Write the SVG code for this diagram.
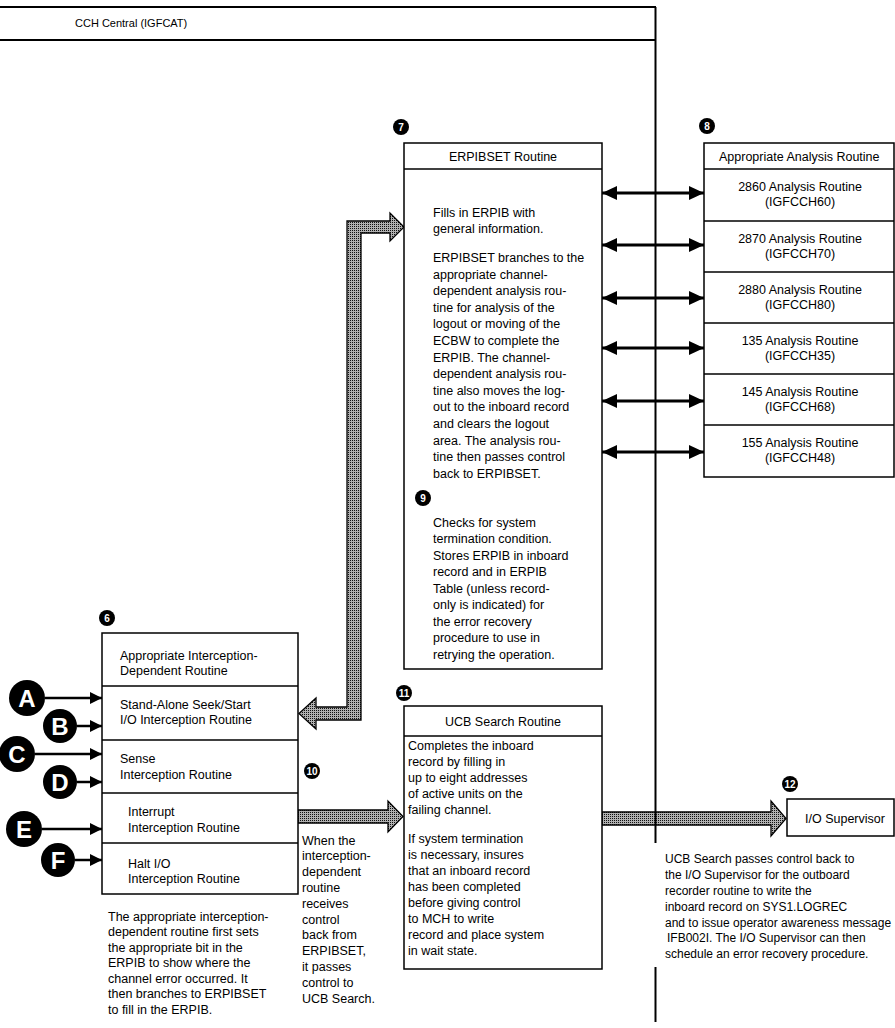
<svg xmlns="http://www.w3.org/2000/svg" width="895" height="1028" viewBox="0 0 895 1028">
<style>
.t{font-family:"Liberation Sans",Arial,sans-serif;font-size:12.5px;fill:#000}
.s{font-size:12px}
.h{font-family:"Liberation Sans",Arial,sans-serif;font-size:12.5px;fill:#000;text-anchor:middle}
.box{fill:#fff;stroke:#000;stroke-width:1.5}
.ln{stroke:#000;stroke-width:1.5;fill:none}
.bd{fill:#000}
.bn{font-family:"Liberation Sans",Arial,sans-serif;font-size:10px;font-weight:bold;fill:#fff;text-anchor:middle}
.lc{fill:#000}
.lt{font-family:"Liberation Sans",Arial,sans-serif;font-size:24px;font-weight:bold;fill:#fff;text-anchor:middle}
.ar{stroke:#000;stroke-width:3;fill:none}
.big{fill:url(#dots);stroke:#000;stroke-width:1.3;stroke-linejoin:miter}
</style>
<defs>
<pattern id="dots" width="2" height="2" patternUnits="userSpaceOnUse"><rect width="2" height="2" fill="#b0b0b0"/><rect width="1" height="1" fill="#111"/></pattern>
<marker id="ah" viewBox="0 0 15 14" refX="15" refY="7" markerWidth="15" markerHeight="14" markerUnits="userSpaceOnUse" orient="auto-start-reverse"><path d="M0,0 L15,7 L0,14 z" fill="#000"/></marker>
<marker id="as" viewBox="0 0 12 12" refX="12" refY="6" markerWidth="12" markerHeight="12" markerUnits="userSpaceOnUse" orient="auto"><path d="M0,0 L12,6 L0,12 z" fill="#000"/></marker>
</defs>
<rect width="895" height="1028" fill="#fff"/>

<g id="frame">
<line class="ln" x1="0" y1="7" x2="656" y2="7" style="stroke-width:2"/>
<line class="ln" x1="0" y1="40" x2="656" y2="40" style="stroke-width:2"/>
<text class="t" x="75" y="27" style="font-size:11px">CCH Central (IGFCAT)</text>
</g>

<g id="connectors">
<line class="ar" x1="602" y1="193" x2="704" y2="193" marker-start="url(#ah)" marker-end="url(#ah)"/>
<line class="ar" x1="602" y1="245" x2="704" y2="245" marker-start="url(#ah)" marker-end="url(#ah)"/>
<line class="ar" x1="602" y1="298" x2="704" y2="298" marker-start="url(#ah)" marker-end="url(#ah)"/>
<line class="ar" x1="602" y1="348" x2="704" y2="348" marker-start="url(#ah)" marker-end="url(#ah)"/>
<line class="ar" x1="602" y1="401" x2="704" y2="401" marker-start="url(#ah)" marker-end="url(#ah)"/>
<line class="ar" x1="602" y1="452" x2="704" y2="452" marker-start="url(#ah)" marker-end="url(#ah)"/>
<polygon class="big" points="299,713.5 316,698 316,707 347,707 347,221 390,221 390,213 404,227 390,241 390,233 361,233 361,720 316,720 316,729"/>
<polygon class="big" points="298,810 388,810 388,801 403,816.5 388,832 388,823 298,823"/>
<polygon class="big" points="602,812 771,812 771,801 786,818.5 771,836 771,825 602,825"/>
<line class="ar" x1="45" y1="698" x2="102" y2="698" style="stroke-width:2.5" marker-end="url(#as)"/>
<line class="ar" x1="77" y1="726" x2="102" y2="726" style="stroke-width:2.5" marker-end="url(#as)"/>
<line class="ar" x1="35" y1="754" x2="102" y2="754" style="stroke-width:2.5" marker-end="url(#as)"/>
<line class="ar" x1="77" y1="782" x2="102" y2="782" style="stroke-width:2.5" marker-end="url(#as)"/>
<line class="ar" x1="42" y1="829" x2="102" y2="829" style="stroke-width:2.5" marker-end="url(#as)"/>
<line class="ar" x1="75" y1="860" x2="102" y2="860" style="stroke-width:2.5" marker-end="url(#as)"/>
<line class="ln" x1="655.5" y1="7" x2="655.5" y2="843" style="stroke-width:2"/>
<line class="ln" x1="655.5" y1="967" x2="655.5" y2="1022" style="stroke-width:2"/>
</g>

<g id="erpibset">
<rect class="box" x="404" y="143" width="198" height="526"/>
<line class="ln" x1="404" y1="169" x2="602" y2="169"/>
<text class="h" x="503" y="161">ERPIBSET Routine</text>
<circle class="bd" cx="401" cy="127" r="8"/><text class="bn" x="401" y="130.5">7</text>
<text class="t" x="433" y="217">Fills in ERPIB with</text>
<text class="t" x="433" y="233">general information.</text>
<text class="t" x="433" y="262">ERPIBSET branches to the</text>
<text class="t" x="433" y="278.6">appropriate channel-</text>
<text class="t" x="433" y="295.2">dependent analysis rou-</text>
<text class="t" x="433" y="311.8">tine for analysis of the</text>
<text class="t" x="433" y="328.4">logout or moving of the</text>
<text class="t" x="433" y="345">ECBW to complete the</text>
<text class="t" x="433" y="361.6">ERPIB.  The channel-</text>
<text class="t" x="433" y="378.2">dependent analysis rou-</text>
<text class="t" x="433" y="394.8">tine also moves the log-</text>
<text class="t" x="433" y="411.4">out to the inboard record</text>
<text class="t" x="433" y="428">and clears the logout</text>
<text class="t" x="433" y="444.6">area.  The analysis rou-</text>
<text class="t" x="433" y="461.2">tine then passes control</text>
<text class="t" x="433" y="477.8">back to ERPIBSET.</text>
<circle class="bd" cx="423" cy="498" r="8"/><text class="bn" x="423" y="501.5">9</text>
<text class="t" x="433" y="526.5">Checks for system</text>
<text class="t" x="433" y="543">termination condition.</text>
<text class="t" x="433" y="559.5">Stores ERPIB in inboard</text>
<text class="t" x="433" y="576">record and in ERPIB</text>
<text class="t" x="433" y="592.5">Table (unless record-</text>
<text class="t" x="433" y="609">only is indicated) for</text>
<text class="t" x="433" y="625.5">the error recovery</text>
<text class="t" x="433" y="642">procedure to use in</text>
<text class="t" x="433" y="658.5">retrying the operation.</text>
</g>

<g id="analysis">
<rect class="box" x="704" y="143" width="190" height="334"/>
<line class="ln" x1="704" y1="169" x2="894" y2="169"/>
<line class="ln" x1="704" y1="221" x2="894" y2="221"/>
<line class="ln" x1="704" y1="272" x2="894" y2="272"/>
<line class="ln" x1="704" y1="323" x2="894" y2="323"/>
<line class="ln" x1="704" y1="374" x2="894" y2="374"/>
<line class="ln" x1="704" y1="425" x2="894" y2="425"/>
<circle class="bd" cx="707" cy="126" r="8"/><text class="bn" x="707" y="129.5">8</text>
<text class="t" x="719" y="161">Appropriate Analysis Routine</text>
<text class="h" x="800" y="191">2860 Analysis Routine</text>
<text class="h" x="800" y="206">(IGFCCH60)</text>
<text class="h" x="800" y="242.5">2870 Analysis Routine</text>
<text class="h" x="800" y="257.5">(IGFCCH70)</text>
<text class="h" x="800" y="293.5">2880 Analysis Routine</text>
<text class="h" x="800" y="308.5">(IGFCCH80)</text>
<text class="h" x="800" y="344.5">135 Analysis Routine</text>
<text class="h" x="800" y="359.5">(IGFCCH35)</text>
<text class="h" x="800" y="395.5">145 Analysis Routine</text>
<text class="h" x="800" y="410.5">(IGFCCH68)</text>
<text class="h" x="800" y="446.5">155 Analysis Routine</text>
<text class="h" x="800" y="461.5">(IGFCCH48)</text>
</g>

<g id="interception">
<rect class="box" x="102" y="633" width="196" height="261"/>
<line class="ln" x1="102" y1="686" x2="298" y2="686"/>
<line class="ln" x1="102" y1="740" x2="298" y2="740"/>
<line class="ln" x1="102" y1="793" x2="298" y2="793"/>
<line class="ln" x1="102" y1="843" x2="298" y2="843"/>
<circle class="bd" cx="107" cy="618" r="8"/><text class="bn" x="107" y="621.5">6</text>
<text class="t" x="120" y="659.5">Appropriate Interception-</text>
<text class="t" x="120" y="675">Dependent Routine</text>
<text class="t" x="120" y="708.5">Stand-Alone Seek/Start</text>
<text class="t" x="120" y="723.5">I/O Interception Routine</text>
<text class="t" x="120" y="762.5">Sense</text>
<text class="t" x="120" y="778.5">Interception Routine</text>
<text class="t" x="128" y="815.5">Interrupt</text>
<text class="t" x="128" y="831.5">Interception Routine</text>
<text class="t" x="128" y="867.5">Halt I/O</text>
<text class="t" x="128" y="882.5">Interception Routine</text>
<text class="t" x="108" y="920.5">The appropriate interception-</text>
<text class="t" x="108" y="936">dependent routine first sets</text>
<text class="t" x="108" y="951.5">the appropriate bit in the</text>
<text class="t" x="108" y="967">ERPIB to show where the</text>
<text class="t" x="108" y="982.5">channel error occurred.  It</text>
<text class="t" x="108" y="998">then branches to ERPIBSET</text>
<text class="t" x="108" y="1013.5">to fill in the ERPIB.</text>
</g>

<g id="entryA"><circle class="lc" cx="27" cy="698" r="18"/><text class="lt" x="27" y="706.5">A</text></g>
<g id="entryB"><circle class="lc" cx="60" cy="726" r="17"/><text class="lt" x="60" y="734.5">B</text></g>
<g id="entryC"><circle class="lc" cx="17" cy="754" r="18"/><text class="lt" x="17" y="762.5">C</text></g>
<g id="entryD"><circle class="lc" cx="60" cy="782" r="17"/><text class="lt" x="60" y="790.5">D</text></g>
<g id="entryE"><circle class="lc" cx="24" cy="829" r="18"/><text class="lt" x="24" y="837.5">E</text></g>
<g id="entryF"><circle class="lc" cx="58" cy="860" r="17"/><text class="lt" x="58" y="868.5">F</text></g>

<g id="step10">
<circle class="bd" cx="312" cy="771" r="8"/><text class="bn" x="312" y="774.5">10</text>
<text class="t" x="302" y="844.5">When the</text>
<text class="t" x="302" y="860.3">interception-</text>
<text class="t" x="302" y="876.1">dependent</text>
<text class="t" x="302" y="891.9">routine</text>
<text class="t" x="302" y="907.7">receives</text>
<text class="t" x="302" y="923.5">control</text>
<text class="t" x="302" y="939.3">back from</text>
<text class="t" x="302" y="955.1">ERPIBSET,</text>
<text class="t" x="302" y="970.9">it passes</text>
<text class="t" x="302" y="986.7">control to</text>
<text class="t" x="302" y="1002.5">UCB Search.</text>
</g>

<g id="ucbsearch">
<rect class="box" x="404" y="706" width="198" height="263"/>
<line class="ln" x1="404" y1="736" x2="602" y2="736"/>
<circle class="bd" cx="404" cy="693" r="8"/><text class="bn" x="404" y="696.5">11</text>
<text class="h" x="503" y="726">UCB Search Routine</text>
<text class="t" x="408" y="749.5">Completes the inboard</text>
<text class="t" x="408" y="765.5">record by filling in</text>
<text class="t" x="408" y="781.5">up to eight addresses</text>
<text class="t" x="408" y="797.5">of active units on the</text>
<text class="t" x="408" y="813.5">failing channel.</text>
<text class="t" x="408" y="842.5">If system termination</text>
<text class="t" x="408" y="858.5">is necessary, insures</text>
<text class="t" x="408" y="874.5">that an inboard record</text>
<text class="t" x="408" y="890.5">has been completed</text>
<text class="t" x="408" y="906.5">before giving control</text>
<text class="t" x="408" y="922.5">to MCH to write</text>
<text class="t" x="408" y="938.5">record and place system</text>
<text class="t" x="408" y="954.5">in wait state.</text>
</g>

<g id="iosupervisor">
<rect class="box" x="787" y="799" width="107" height="37"/>
<circle class="bd" cx="790" cy="784" r="8"/><text class="bn" x="790" y="787.5">12</text>
<text class="t" x="805" y="822.5">I/O Supervisor</text>
<text class="t s" x="665" y="863">UCB Search passes control back to</text>
<text class="t s" x="665" y="879">the I/O Supervisor for the outboard</text>
<text class="t s" x="665" y="895">recorder routine to write the</text>
<text class="t s" x="665" y="911">inboard record on SYS1.LOGREC</text>
<text class="t s" x="665" y="926.5">and to issue operator awareness message</text>
<text class="t s" x="667" y="942">IFB002I.  The I/O Supervisor can then</text>
<text class="t s" x="665" y="958">schedule an error recovery procedure.</text>
</g>
</svg>
